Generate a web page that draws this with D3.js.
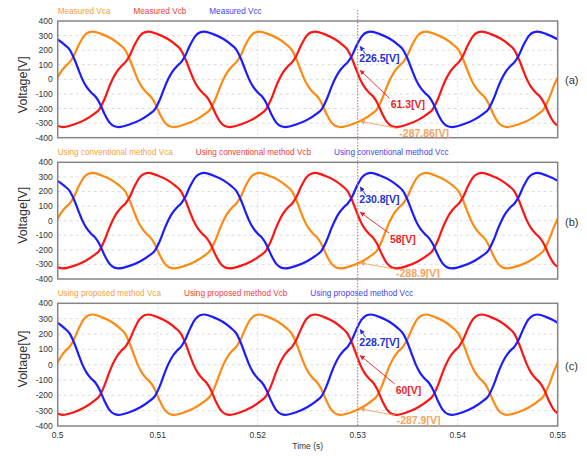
<!DOCTYPE html>
<html>
<head>
<meta charset="utf-8">
<script src="https://cdn.jsdelivr.net/npm/d3@7/dist/d3.min.js"></script>
<style>
  body { margin: 0; background: #fff; }
  text { font-family: "Liberation Sans", Arial, sans-serif; }
</style>
</head>
<body>
<div id="chart"></div>
<script>
// waveforms: [ms after 0.5 s, volts]
const vca = [[-1.42,-205],[-0.92,-138],[-0.42,-50],
  [-0.1,0],[0.3,50],[0.8,92],[1.2,118],[1.6,160],[2.1,235],[2.6,295],[3.1,322],[3.5,327],[4.4,310],[5.4,278],[6.2,238],[6.7,205],[7.2,138],[7.7,50],[8.0,0],[8.4,-50],[8.9,-92],[9.3,-118],[9.7,-160],[10.2,-235],[10.7,-295],[11.2,-322],[11.6,-327],[12.7,-310],[13.8,-278],[14.7,-238],[15.25,-205],[15.75,-138],[16.25,-50],
  [16.57,0],[16.97,50],[17.47,92],[17.87,118],[18.27,160],[18.77,235],[19.27,295],[19.77,322],[20.17,327],[21.07,310],[22.07,278],[22.87,238],[23.37,205],[23.87,138],[24.37,50],[24.67,0],[25.07,-50],[25.57,-92],[25.97,-118],[26.37,-160],[26.87,-235],[27.37,-295],[27.87,-322],[28.27,-327],[29.37,-310],[30.47,-278],[31.37,-238],[31.92,-205],[32.42,-138],[32.92,-50],
  [33.24,0],[33.64,50],[34.14,92],[34.54,118],[34.94,160],[35.44,235],[35.94,295],[36.44,322],[36.84,327],[37.74,310],[38.74,278],[39.54,238],[40.04,205],[40.54,138],[41.04,50],[41.34,0],[41.74,-50],[42.24,-92],[42.64,-118],[43.04,-160],[43.54,-235],[44.04,-295],[44.54,-322],[44.94,-327],[46.04,-310],[47.14,-278],[48.04,-238],[48.59,-205],[49.09,-138],[49.59,-50],[49.91,0],[50.31,50]];

const vcb = [[-3.09,0],[-2.69,-50],[-2.19,-92],[-1.79,-118],[-1.39,-160],[-0.89,-235],[-0.39,-295],[0.11,-322],[0.51,-327],[1.61,-310],[2.71,-278],[3.61,-238],[4.16,-205],[4.66,-138],[5.16,-50],
  [5.48,0],[5.88,50],[6.38,92],[6.78,118],[7.18,160],[7.68,235],[8.18,295],[8.68,322],[9.08,327],[9.98,310],[10.98,278],[11.78,238],[12.28,205],[12.78,138],[13.28,50],[13.58,0],[13.98,-50],[14.48,-92],[14.88,-118],[15.28,-160],[15.78,-235],[16.28,-295],[16.78,-322],[17.18,-327],[18.28,-310],[19.38,-278],[20.28,-238],[20.83,-205],[21.33,-138],[21.83,-50],
  [22.15,0],[22.55,50],[23.05,92],[23.45,118],[23.85,160],[24.35,235],[24.85,295],[25.35,322],[25.75,327],[26.65,310],[27.65,278],[28.45,238],[28.95,205],[29.45,138],[29.95,50],[30.25,0],[30.65,-50],[31.15,-92],[31.55,-118],[31.95,-160],[32.45,-235],[32.95,-295],[33.45,-322],[33.85,-327],[34.95,-310],[36.05,-278],[36.95,-238],[37.5,-205],[38.0,-138],[38.5,-50],
  [38.82,0],[39.22,50],[39.72,92],[40.12,118],[40.52,160],[41.02,235],[41.52,295],[42.02,322],[42.42,327],[43.32,310],[44.32,278],[45.12,238],[45.62,205],[46.12,138],[46.62,50],[46.92,0],[47.32,-50],[47.82,-92],[48.22,-118],[48.62,-160],[49.12,-235],[49.62,-295],[50.12,-322]];

const vcc = [[-2.43,322],[-2.03,327],[-1.13,310],[-0.13,278],[0.67,238],[1.17,205],[1.67,138],[2.17,50],[2.47,0],[2.87,-50],[3.37,-92],[3.77,-118],[4.17,-160],[4.67,-235],[5.17,-295],[5.67,-322],[6.07,-327],[7.17,-310],[8.27,-278],[9.17,-238],[9.72,-205],[10.22,-138],[10.72,-50],
  [11.04,0],[11.44,50],[11.94,92],[12.34,118],[12.74,160],[13.24,235],[13.74,295],[14.24,322],[14.64,327],[15.54,310],[16.54,278],[17.34,238],[17.84,205],[18.34,138],[18.84,50],[19.14,0],[19.54,-50],[20.04,-92],[20.44,-118],[20.84,-160],[21.34,-235],[21.84,-295],[22.34,-322],[22.74,-327],[23.84,-310],[24.94,-278],[25.84,-238],[26.39,-205],[26.89,-138],[27.39,-50],
  [27.71,0],[28.11,50],[28.61,92],[29.01,118],[29.41,160],[29.91,235],[30.41,295],[30.91,322],[31.31,327],[32.21,310],[33.21,278],[34.01,238],[34.51,205],[35.01,138],[35.51,50],[35.81,0],[36.21,-50],[36.71,-92],[37.11,-118],[37.51,-160],[38.01,-235],[38.51,-295],[39.01,-322],[39.41,-327],[40.51,-310],[41.61,-278],[42.51,-238],[43.06,-205],[43.56,-138],[44.06,-50],
  [44.38,0],[44.78,50],[45.28,92],[45.68,118],[46.08,160],[46.58,235],[47.08,295],[47.58,322],[47.98,327],[48.88,310],[49.88,278],[50.68,238]];

const panelLabels = ["(a)", "(b)", "(c)"];
const legendNames = [
  ["Measured Vca", "Measured Vcb", "Measured Vcc"],
  ["Using conventional method Vca", "Using conventional method Vcb", "Using conventional method Vcc"],
  ["Using proposed method Vca", "Using proposed method Vcb", "Using proposed method Vcc"]
];
// cursor readings at t = 0.53 s, order Vcc, Vcb, Vca
const readings = [[226.5, 61.3, -287.86], [230.8, 58, -288.9], [228.7, 60, -287.9]];
const readingText = [["226.5[V]", "61.3[V]", "-287.86[V]"], ["230.8[V]", "58[V]", "-288.9[V]"], ["228.7[V]", "60[V]", "-287.9[V]"]];
const cursorTime = 0.53;
const yTicks = [-400, -300, -200, -100, 0, 100, 200, 300, 400];
const xTicks = [0.5, 0.51, 0.52, 0.53, 0.54, 0.55];
const t0 = 0.5;

const W = 587, H = 456;
const left = 57.7, right = 557.7;
const panels = [
  {top: 21, bottom: 137.7, titleY: 84.7},
  {top: 162.3, bottom: 279, titleY: 215.3},
  {top: 303.3, bottom: 426, titleY: 359}
];
const lineColors = ["#ff8a12", "#ff1414", "#1c1cff"];
const legendColors = ["#f7a040", "#f23a3a", "#4444ee"];
const noteColors = ["#1f2fd6", "#ee1f1f", "#f5a35e"];
// per panel offsets for the red note (dx from cursor, dy from point)
const redOff = [[33, 38], [32.3, 31], [38, 38.5]];
const orangeOff = [[41.6, 15.7], [38.3, 14.7], [39, 15]];

const svg = d3.select("#chart").append("svg")
  .attr("width", W).attr("height", H)
  .style("background", "#fff");

const defs = svg.append("defs");
noteColors.forEach((c, i) => {
  defs.append("marker")
    .attr("id", "arr" + i)
    .attr("viewBox", "0 0 10 10")
    .attr("refX", 9).attr("refY", 5)
    .attr("markerWidth", 5).attr("markerHeight", 5)
    .attr("markerUnits", "userSpaceOnUse")
    .attr("orient", "auto")
    .append("path").attr("d", "M0,0L10,5L0,10z").attr("fill", c);
});

const x = d3.scaleLinear().domain([0.5, 0.55]).range([left, right]);
const series = [vca, vcb, vcc];

panels.forEach((p, pi) => {
  const y = d3.scaleLinear().domain([-400, 400]).range([p.bottom, p.top]);
  const g = svg.append("g");

  defs.append("clipPath").attr("id", "clip" + pi)
    .append("rect").attr("x", left).attr("y", p.top)
    .attr("width", right - left).attr("height", p.bottom - p.top);

  // grid
  g.selectAll(".hg").data(yTicks.slice(1, -1)).enter().append("line")
    .attr("x1", left).attr("x2", right)
    .attr("y1", d => y(d)).attr("y2", d => y(d))
    .attr("stroke", "#d4d4d4").attr("stroke-width", 0.8)
    .attr("stroke-dasharray", "3,3");
  g.selectAll(".vg").data(xTicks.slice(1, -1)).enter().append("line")
    .attr("x1", d => x(d)).attr("x2", d => x(d))
    .attr("y1", p.top).attr("y2", p.bottom)
    .attr("stroke", "#dcdcdc").attr("stroke-width", 0.8)
    .attr("stroke-dasharray", "2,2");

  // y tick labels
  g.selectAll(".yt").data(yTicks).enter().append("text")
    .attr("x", left - 5).attr("y", d => y(d))
    .attr("dy", "0.35em")
    .attr("text-anchor", "end")
    .style("font-size", "8.5px").style("fill", "#333")
    .text(d => d);

  // axis title
  g.append("text")
    .attr("transform", `translate(27,${p.titleY}) rotate(-90)`)
    .attr("text-anchor", "middle")
    .style("font-size", "12.5px").style("fill", "#333")
    .text("Voltage[V]");

  // panel label
  g.append("text")
    .attr("x", 565).attr("y", y(0) + 1)
    .attr("dy", "0.35em")
    .style("font-size", "11px").style("fill", "#333")
    .text(panelLabels[pi]);

  // legend, laid out by text width
  let lx = left;
  legendNames[pi].forEach((name, si) => {
    const t = g.append("text")
      .attr("x", lx).attr("y", p.top - 7.3)
      .style("font-size", "8.2px").style("fill", legendColors[si])
      .text(name);
    lx += t.node().getComputedTextLength() + 23;
  });

  // waveforms
  const line = d3.line()
    .x(d => x(t0 + d[0] / 1000))
    .y(d => y(d[1]))
    .curve(d3.curveMonotoneX);
  const cg = g.append("g").attr("clip-path", `url(#clip${pi})`);
  series.forEach((s, si) => {
    cg.append("path").datum(s)
      .attr("d", line)
      .attr("fill", "none")
      .attr("stroke", lineColors[si])
      .attr("stroke-width", 2.2)
      .attr("stroke-linejoin", "round");
  });

  // frame
  g.append("rect")
    .attr("x", left).attr("y", p.top)
    .attr("width", right - left).attr("height", p.bottom - p.top)
    .attr("fill", "none").attr("stroke", "#858585").attr("stroke-width", 1.5);

  // cursor notes
  const cx = x(cursorTime);
  const tipX = cx + 2.5;
  const [vb, vr, vo] = readings[pi];
  const [tb, tr, to] = readingText[pi];
  const notes = [
    {v: vb, txt: tb, c: 0, tx: cx + 1.6, ty: y(vb) + 16, sx: cx + 8, sy: y(vb) + 8},
    {v: vr, txt: tr, c: 1, tx: cx + redOff[pi][0], ty: y(vr) + redOff[pi][1],
      sx: cx + redOff[pi][0] - 1, sy: y(vr) + redOff[pi][1] - 10},
    {v: vo, txt: to, c: 2, tx: cx + orangeOff[pi][0], ty: y(vo) + orangeOff[pi][1],
      sx: cx + orangeOff[pi][0] - 1.5, sy: y(vo) + orangeOff[pi][1] - 8.5}
  ];
  notes.forEach(n => {
    g.append("line")
      .attr("x1", n.sx).attr("y1", n.sy)
      .attr("x2", tipX).attr("y2", y(n.v))
      .attr("stroke", noteColors[n.c]).attr("stroke-width", 0.9)
      .attr("marker-end", `url(#arr${n.c})`);
    g.append("text")
      .attr("x", n.tx).attr("y", n.ty)
      .style("font-size", "10.5px").style("font-weight", "bold")
      .style("fill", noteColors[n.c])
      .text(n.txt);
  });
});

// x tick labels under the last panel
const last = panels[2];
svg.selectAll(".xt").data(xTicks).enter().append("text")
  .attr("x", d => x(d)).attr("y", last.bottom + 11.5)
  .attr("text-anchor", "middle")
  .style("font-size", "8.5px").style("fill", "#333")
  .text(d => d);

svg.append("text")
  .attr("x", (left + right) / 2).attr("y", 449)
  .attr("text-anchor", "middle")
  .style("font-size", "8.5px").style("fill", "#333")
  .text("Time (s)");

// red cursor through all panels
svg.append("line")
  .attr("x1", x(cursorTime)).attr("x2", x(cursorTime))
  .attr("y1", 10).attr("y2", last.bottom)
  .attr("stroke", "#f06060").attr("stroke-width", 1)
  .attr("stroke-dasharray", "1.5,1.5");
</script>
</body>
</html>
